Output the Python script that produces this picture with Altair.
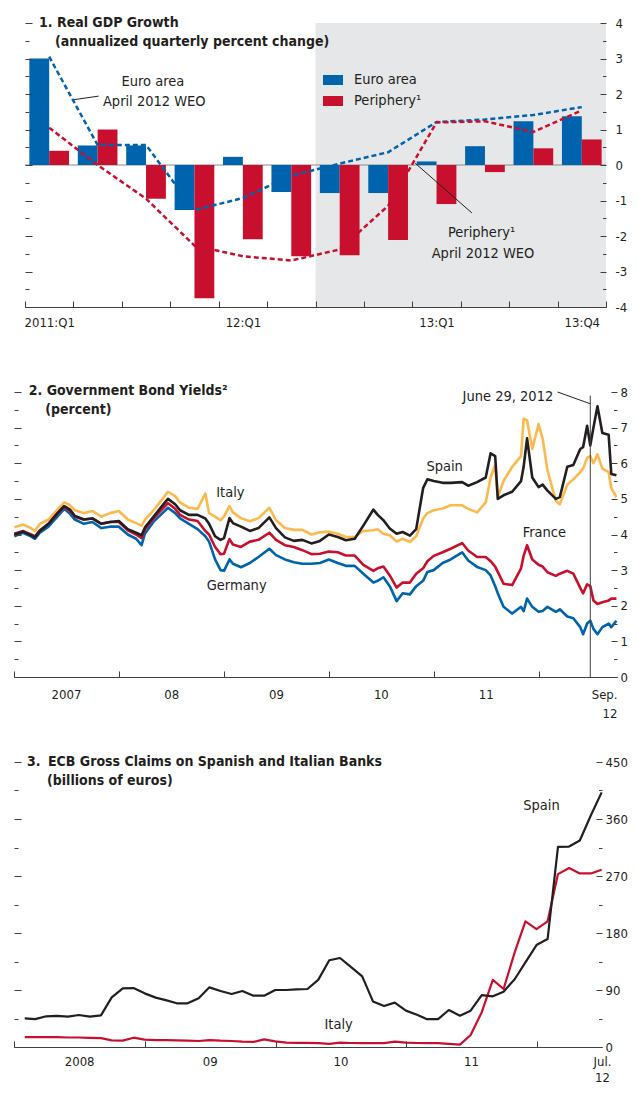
import altair as alt
import pandas as pd

FONT = "DejaVu Sans Condensed, Liberation Sans Narrow, sans-serif"
TXT = "#231f20"
AX = "#404040"
BLUE = "#0063ae"
RED = "#c8102e"
GOLD = "#fdb94e"
BLACK = "#231f20"
SHADE = "#e6e7e8"
ZERO = "#8a8a8a"
FS_TITLE = 14
FS_TEXT = 14.5
FS_YLAB = 13
FS_XLAB = 13

# ---------------- Panel 1 data: Real GDP growth ----------------
quarters = ["2011:Q1", "11:Q2", "11:Q3", "11:Q4", "12:Q1", "12:Q2",
            "12:Q3", "12:Q4", "13:Q1", "13:Q2", "13:Q3", "13:Q4"]
quarter_labels = ["2011:Q1", "12:Q1", "13:Q1", "13:Q4"]
forecast_start = "12:Q3"
series_names = ["Euro area", "Periphery\u00b9"]
euro_area = [3.0, 0.55, 0.55, -1.27, 0.23, -0.76, -0.79, -0.79, 0.10, 0.53, 1.23, 1.37]
periphery = [0.40, 1.00, -0.95, -3.75, -2.09, -2.57, -2.54, -2.11, -1.10, -0.20, 0.47, 0.72]
euro_area_weo = [3.05, 0.56, 0.56, -1.27, -0.93, -0.30, 0.04, 0.36, 1.21, 1.28, 1.41, 1.63]
periphery_weo = [1.05, 0.0, -0.95, -2.27, -2.57, -2.69, -2.38, -1.15, 1.20, 1.23, 0.93, 1.54]
ann1_text = ["Euro area", "April 2012 WEO", "Periphery\u00b9", "April 2012 WEO"]
ann1_q = [2.14, 2.17, 8.93, 8.96]
ann1_v = [2.33, 1.77, -1.91, -2.51]
lead1_id = ["ea", "ea", "pe", "pe"]
lead1_q = [0.51, 1.02, 7.56, 8.73]
lead1_v = [1.84, 1.94, 0.05, -1.35]

# ---------------- Panel 2 data: Government bond yields ----------------
dates2 = [
    "2007-01-02", "2007-02-01", "2007-03-01", "2007-03-15", "2007-04-01", "2007-05-01",
    "2007-06-01", "2007-06-25", "2007-07-15", "2007-08-01", "2007-09-01", "2007-10-01",
    "2007-11-01", "2007-12-01", "2008-01-01", "2008-02-01", "2008-03-01", "2008-03-20",
    "2008-04-01", "2008-05-01", "2008-06-01", "2008-06-20", "2008-07-15", "2008-08-01",
    "2008-09-01", "2008-10-01", "2008-10-28", "2008-11-10", "2008-12-01", "2008-12-20",
    "2009-01-01", "2009-01-20", "2009-02-01", "2009-03-01", "2009-04-01", "2009-05-01",
    "2009-06-08", "2009-07-01", "2009-08-01", "2009-09-01", "2009-10-01", "2009-11-01",
    "2009-12-01", "2010-01-01", "2010-02-01", "2010-03-01", "2010-04-01", "2010-05-01",
    "2010-06-05", "2010-06-20", "2010-07-10", "2010-08-01", "2010-08-25", "2010-09-15",
    "2010-10-10", "2010-11-01", "2010-11-25", "2010-12-10", "2011-01-01", "2011-02-01",
    "2011-03-01", "2011-04-10", "2011-05-01", "2011-06-01", "2011-07-01", "2011-07-18",
    "2011-08-03", "2011-08-12", "2011-09-01", "2011-10-01", "2011-11-01", "2011-11-10",
    "2011-11-22", "2011-12-10", "2012-01-01", "2012-01-15", "2012-02-01", "2012-03-01",
    "2012-03-15", "2012-04-10", "2012-05-01", "2012-05-25", "2012-06-04", "2012-06-18",
    "2012-06-29", "2012-07-10", "2012-07-24", "2012-08-10", "2012-09-01", "2012-09-10",
    "2012-09-28"]
germany = [
    3.95, 4.05, 3.95, 3.88, 4.05, 4.22, 4.50, 4.72, 4.58, 4.42, 4.30, 4.35,
    4.18, 4.22, 4.22, 4.00, 3.88, 3.70, 4.03, 4.36, 4.60, 4.75, 4.60, 4.45,
    4.30, 4.15, 3.95, 3.80, 3.30, 3.00, 2.98, 3.30, 3.18, 3.08, 3.20, 3.37,
    3.60, 3.42, 3.30, 3.22, 3.18, 3.18, 3.20, 3.30, 3.20, 3.12, 3.12, 2.90,
    2.65, 2.70, 2.80, 2.55, 2.13, 2.35, 2.32, 2.55, 2.70, 2.95, 3.00, 3.20,
    3.30, 3.50, 3.27, 3.09, 3.00, 2.85, 2.55, 2.35, 1.97, 1.78, 1.97, 1.85,
    2.20, 1.97, 1.83, 1.85, 1.97, 1.83, 1.90, 1.70, 1.65, 1.40, 1.20, 1.50,
    1.58, 1.35, 1.20, 1.40, 1.50, 1.40, 1.58]
france = [
    4.02, 4.10, 4.00, 3.95, 4.12, 4.30, 4.58, 4.78, 4.66, 4.50, 4.42, 4.45,
    4.30, 4.35, 4.35, 4.12, 4.00, 3.90, 4.15, 4.45, 4.72, 4.88, 4.72, 4.55,
    4.42, 4.38, 4.10, 4.00, 3.65, 3.45, 3.46, 3.87, 3.72, 3.65, 3.80, 3.85,
    4.05, 3.85, 3.70, 3.65, 3.56, 3.45, 3.46, 3.52, 3.50, 3.41, 3.41, 3.15,
    2.98, 3.05, 3.10, 2.85, 2.51, 2.65, 2.65, 2.90, 3.05, 3.25, 3.40, 3.50,
    3.60, 3.76, 3.55, 3.37, 3.37, 3.25, 3.10, 2.95, 2.62, 2.58, 3.05, 3.40,
    3.70, 3.30, 3.15, 3.10, 2.94, 2.84, 2.90, 2.98, 2.90, 2.50, 2.35, 2.60,
    2.55, 2.15, 2.05, 2.10, 2.15, 2.20, 2.20]
italy = [
    4.20, 4.28, 4.18, 4.10, 4.30, 4.42, 4.70, 4.90, 4.82, 4.68, 4.60, 4.66,
    4.50, 4.60, 4.66, 4.42, 4.32, 4.25, 4.42, 4.68, 5.00, 5.20, 5.08, 4.90,
    4.75, 4.72, 5.15, 4.60, 4.50, 4.40, 4.50, 4.80, 4.62, 4.46, 4.37, 4.46,
    4.75, 4.40, 4.18, 4.13, 4.13, 4.00, 4.06, 4.08, 4.02, 3.93, 3.93, 4.10,
    4.12, 4.15, 4.02, 3.98, 3.80, 3.88, 3.79, 3.95, 4.45, 4.60, 4.68, 4.73,
    4.82, 4.82, 4.72, 4.62, 4.90, 5.60, 5.95, 5.05, 5.50, 5.90, 6.20, 7.25,
    7.20, 6.40, 7.10, 6.70, 5.80, 4.95, 4.85, 5.40, 5.55, 5.75, 5.85, 6.15,
    6.20, 6.00, 6.25, 5.85, 5.75, 5.30, 5.05]
spain = [
    4.00, 4.08, 3.98, 3.92, 4.10, 4.30, 4.60, 4.80, 4.70, 4.52, 4.42, 4.45,
    4.30, 4.35, 4.38, 4.15, 4.05, 3.98, 4.20, 4.50, 4.82, 5.00, 4.85, 4.68,
    4.55, 4.55, 4.45, 4.30, 3.95, 3.85, 3.90, 4.46, 4.32, 4.22, 4.10, 4.18,
    4.48, 4.18, 3.92, 3.82, 3.85, 3.75, 3.82, 4.00, 3.93, 3.84, 3.88, 4.25,
    4.70, 4.55, 4.40, 4.17, 4.02, 4.07, 3.97, 4.15, 5.30, 5.55, 5.50, 5.45,
    5.45, 5.47, 5.37, 5.47, 5.60, 6.28, 6.20, 5.00, 5.10, 5.20, 5.50, 5.90,
    6.70, 5.60, 5.33, 5.40, 5.23, 5.00, 5.05, 5.90, 5.95, 6.40, 6.45, 7.05,
    6.50, 7.00, 7.60, 6.85, 6.80, 5.70, 5.66]
event_date = "2012-06-29"
event_label = "June 29, 2012"
lab2_text = ["Italy", "Germany", "Spain", "France"]
lab2_date = ["2009-01-23", "2009-02-14", "2011-02-08", "2012-01-21"]
lab2_v = [5.17, 2.55, 5.90, 4.04]

# ---------------- Panel 3 data: ECB gross claims ----------------
months3 = pd.date_range("2008-01-31", periods=54, freq="ME").strftime("%Y-%m-%d").tolist()
spain3 = [45.3, 44, 48.5, 49, 48, 50.5, 48, 50, 78.4, 92.6, 93, 84.7, 78, 74, 69, 69,
          77, 94.2, 88.4, 83.7, 88.4, 81, 81, 90, 90, 91, 91.6, 106, 137, 140.5, 126,
          111.6, 72, 64.7, 70, 57.4, 51, 44, 44, 58.4, 49.5, 57.4, 82, 80, 87.4, 107,
          133.7, 161, 170.5, 316, 316.5, 326, 366, 402]
italy3 = [15.5, 15.5, 15.5, 15.5, 15, 15, 14.5, 14, 10.5, 10, 14.7, 11.6, 11, 11, 10.5,
          10, 9.5, 11, 10, 9.5, 8.4, 8, 12, 9, 7, 6.5, 6.5, 6, 5, 7, 6.3, 6, 6, 6, 8.4,
          7, 6.3, 6, 6, 5, 3.7, 19, 55, 106, 91.6, 149.5, 198.5, 186, 198.5, 273, 282.6,
          274, 274, 280]
lab3_text = ["Spain", "Italy"]
lab3_date = ["2012-01-14", "2010-06-26"]
lab3_v = [381, 35]

DUMMY = pd.DataFrame({"a": [0]})


def dt(y, m, d):
    return alt.DateTime(year=y, month=m, date=d, utc=True)


def cond_size(test, long, short):
    return {"condition": {"test": test, "value": long}, "value": short}


def ticks_from_left(values, offset, test, long, short):
    # inward ticks at the left edge of the plot
    return alt.Axis(orient="right", offset=offset, values=values, labels=False, domain=False,
                    ticks=True, tickColor=AX, tickWidth=1, tickSize=cond_size(test, long, short),
                    grid=False, title=None, zindex=1)


def ticks_from_right(values, offset, test, long, short):
    # inward ticks at the right edge of the plot
    return alt.Axis(orient="left", offset=offset, values=values, labels=False, domain=False,
                    ticks=True, tickColor=AX, tickWidth=1, tickSize=cond_size(test, long, short),
                    grid=False, title=None, zindex=1)


def y_labels(values, pad):
    return alt.Axis(orient="right", values=values, ticks=False, tickSize=0, domain=False,
                    labelPadding=pad, labelAlign="left", labelBaseline="middle",
                    labelExpr="'' + datum.value", labelFont=FONT, labelFontSize=FS_YLAB,
                    labelColor=TXT, labelOverlap=False, labelFlush=False, grid=False, title=None)


def x_ticks(values, height):
    return alt.Axis(orient="top", offset=-height, values=values, labels=False, ticks=True,
                    tickSize=6, tickColor=AX, domain=True, domainColor=AX, domainWidth=1.2,
                    grid=False, title=None, zindex=1)


def x_labels(values, expr, pad, align, line_height=19):
    return alt.Axis(orient="bottom", values=values, labelExpr=expr, ticks=False, tickSize=0,
                    domain=False, labelPadding=pad, labelFont=FONT, labelFontSize=FS_XLAB,
                    labelColor=TXT, labelLineHeight=line_height, labelAlign=align,
                    labelOverlap=False, labelFlush=False, labelBound=False,
                    grid=False, title=None)


def title_text(text, px, py):
    return alt.Chart(DUMMY).mark_text(
        align="left", baseline="alphabetic", font=FONT, fontSize=FS_TITLE,
        fontWeight="bold", color=TXT
    ).encode(x=alt.value(px), y=alt.value(py), text=alt.value(text))


# ======================= Panel 1 =======================
n = len(quarters)
qi = list(range(n))
W1, H1, L1 = 592, 284, 11
xs1 = alt.Scale(domain=[-0.5, n - 0.5], range=[L1, W1], nice=False, zero=False)
ys1 = alt.Scale(domain=[-4, 4], nice=False, zero=False)
yt1 = [i / 2 for i in range(-8, 9)]
yl1 = list(range(-4, 5))
xt1 = [i - 0.5 for i in range(n + 1)]
xl1 = [quarters.index(l) for l in quarter_labels]
col1 = alt.Scale(domain=series_names, range=[BLUE, RED])
BW = 0.41

bars_df = pd.DataFrame({"q": qi + qi,
                        "series": [series_names[0]] * n + [series_names[1]] * n,
                        "value": euro_area + periphery})
weo_df = pd.DataFrame({"q": qi + qi,
                       "series": [series_names[0]] * n + [series_names[1]] * n,
                       "value": euro_area_weo + periphery_weo})
shade_df = pd.DataFrame({"start": [quarters.index(forecast_start) - 0.5], "end": [n - 0.5]})
ann1_df = pd.DataFrame({"text": ann1_text, "q": ann1_q, "v": ann1_v})
lead1_df = pd.DataFrame({"id": lead1_id, "q": lead1_q, "v": lead1_v})

label_expr1 = "".join(
    f"datum.value == {quarters.index(l)} ? '{l}' : " for l in quarter_labels) + "''"

shade = alt.Chart(shade_df).mark_rect(color=SHADE).encode(
    x=alt.X("start:Q", scale=xs1, axis=None), x2="end:Q",
    y=alt.value(0), y2=alt.value(H1))

zero_line = alt.Chart(pd.DataFrame({"v": [0]})).mark_rule(color=ZERO, strokeWidth=1).encode(
    x=alt.value(L1), x2=alt.value(W1),
    y=alt.Y("v:Q", scale=ys1, axis=y_labels(yl1, 9)))

bars = alt.Chart(bars_df).transform_calculate(
    x0=f"datum.q - (datum.series == '{series_names[0]}' ? {BW} : 0)",
    x1=f"datum.q + (datum.series == '{series_names[0]}' ? 0 : {BW})",
    base="0",
).mark_rect().encode(
    x=alt.X("x0:Q", scale=xs1, axis=x_ticks(xt1, H1)), x2="x1:Q",
    y=alt.Y("value:Q", scale=ys1, axis=ticks_from_left(yt1, -(W1 - L1), "datum.value % 1 === 0", 7, 4)),
    y2="base:Q",
    color=alt.Color("series:N", scale=col1, legend=alt.Legend(
        orient="none", legendX=309, legendY=47, title=None,
        symbolType="M-1,-0.5H1V0.5H-1Z", symbolSize=400, symbolStrokeWidth=0,
        symbolOpacity=1, labelFont=FONT, labelFontSize=FS_TEXT, labelColor=TXT,
        labelOffset=11, rowPadding=4, padding=0)))

weo = alt.Chart(weo_df).mark_line(strokeDash=[5, 3], strokeWidth=2.5).encode(
    x=alt.X("q:Q", scale=xs1, axis=x_labels(xl1, label_expr1, 9, "center")),
    y=alt.Y("value:Q", scale=ys1, axis=ticks_from_right(yt1, -W1, "datum.value % 1 === 0", 6, 3.5)),
    color=alt.Color("series:N", scale=col1, legend=None))

leaders1 = alt.Chart(lead1_df).mark_line(color=TXT, strokeWidth=1).encode(
    x=alt.X("q:Q", scale=xs1, axis=None), y=alt.Y("v:Q", scale=ys1, axis=None),
    detail="id:N")

ann1 = alt.Chart(ann1_df).mark_text(font=FONT, fontSize=FS_TEXT, color=TXT,
                                    align="center", baseline="middle").encode(
    x=alt.X("q:Q", scale=xs1, axis=None), y=alt.Y("v:Q", scale=ys1, axis=None),
    text="text:N")

p1 = alt.layer(
    shade, zero_line, bars, weo, leaders1, ann1,
    title_text("1. Real GDP Growth", 25, 4),
    title_text("(annualized quarterly percent change)", 41, 23.4),
).properties(width=W1, height=H1).resolve_axis(x="independent", y="independent")

# ======================= Panel 2 =======================
W2, H2 = 603, 285
xs2 = alt.Scale(type="utc", domain=[dt(2007, 1, 1), dt(2012, 9, 30)], nice=False)
ys2 = alt.Scale(domain=[0, 8], nice=False, zero=False)
yt2 = [i / 2 for i in range(0, 17)]
yl2 = list(range(0, 9))
years2 = [2007, 2008, 2009, 2010, 2011]
year_labels2 = ["2007", "08", "09", "10", "11"]
end_label2 = ["Sep.", "12"]
xt2 = [dt(y, 1, 1) for y in range(2007, 2013)]
xl2 = [dt(y, 7, 1) for y in years2] + [dt(2012, 9, 30)]
expr2 = "".join(f"utcyear(datum.value) == {y} ? '{l}' : " for y, l in zip(years2, year_labels2)) \
    + "[" + ", ".join(f"'{s}'" for s in end_label2) + "]"
align2 = {"condition": {"test": "utcyear(datum.value) == 2012", "value": "right"}, "value": "center"}


def line2(vals, color, xaxis, yaxis):
    return alt.Chart(pd.DataFrame({"date": dates2, "value": vals})).mark_line(
        color=color, strokeWidth=2.6, strokeJoin="round").encode(
        x=alt.X("date:T", scale=xs2, axis=xaxis),
        y=alt.Y("value:Q", scale=ys2, axis=yaxis))


l_it = line2(italy, GOLD, x_ticks(xt2, H2),
             ticks_from_left(yt2, -W2, "datum.value % 1 === 0", 7, 4))
l_de = line2(germany, BLUE, x_labels(xl2, expr2, 11, align2, 19),
             ticks_from_right(yt2, -W2, "datum.value % 1 === 0", 6, 3.5))
l_fr = line2(france, RED, None, y_labels(yl2, 3))
l_es = line2(spain, BLACK, None, None)

event_rule = alt.Chart(pd.DataFrame({"date": [event_date], "top": [7.9], "bot": [0]})).mark_rule(
    color=AX, strokeWidth=1).encode(
    x=alt.X("date:T", scale=xs2, axis=None),
    y=alt.Y("top:Q", scale=ys2, axis=None), y2="bot:Q")
event_leader = alt.Chart(pd.DataFrame({"date": ["2012-03-07", event_date], "v": [8.0, 7.67]})).mark_line(
    color=TXT, strokeWidth=1).encode(
    x=alt.X("date:T", scale=xs2, axis=None), y=alt.Y("v:Q", scale=ys2, axis=None))
event_text = alt.Chart(pd.DataFrame({"date": ["2012-02-21"], "v": [7.87], "t": [event_label]})).mark_text(
    font=FONT, fontSize=FS_TEXT, color=TXT, align="right", baseline="middle").encode(
    x=alt.X("date:T", scale=xs2, axis=None), y=alt.Y("v:Q", scale=ys2, axis=None), text="t:N")
lab2 = alt.Chart(pd.DataFrame({"date": lab2_date, "v": lab2_v, "t": lab2_text})).mark_text(
    font=FONT, fontSize=FS_TEXT, color=TXT, align="center", baseline="middle").encode(
    x=alt.X("date:T", scale=xs2, axis=None), y=alt.Y("v:Q", scale=ys2, axis=None), text="t:N")

p2 = alt.layer(
    l_it, l_de, l_fr, l_es, event_rule, event_leader, event_text, lab2,
    title_text("2. Government Bond Yields\u00b2", 14.7, 2.7),
    title_text("(percent)", 31.3, 22),
).properties(width=W2, height=H2).resolve_axis(x="independent", y="independent")

# ======================= Panel 3 =======================
W3, H3 = 588, 285
xs3 = alt.Scale(type="utc", domain=[dt(2008, 1, 1), dt(2012, 7, 1)], nice=False)
ys3 = alt.Scale(domain=[0, 450], nice=False, zero=False)
yt3 = list(range(0, 451, 45))
yl3 = list(range(0, 451, 90))
years3 = [2008, 2009, 2010, 2011]
year_labels3 = ["2008", "09", "10", "11"]
end_label3 = ["Jul.", "12"]
xt3 = [dt(y, 1, 1) for y in range(2008, 2013)]
xl3 = [dt(y, 7, 1) for y in years3] + [dt(2012, 7, 1)]
expr3 = "".join(f"utcyear(datum.value) == {y} ? '{l}' : " for y, l in zip(years3, year_labels3)) \
    + "[" + ", ".join(f"'{s}'" for s in end_label3) + "]"


def line3(vals, color, xaxis, yaxis):
    return alt.Chart(pd.DataFrame({"date": months3, "value": vals})).mark_line(
        color=color, strokeWidth=2.2, strokeJoin="round").encode(
        x=alt.X("date:T", scale=xs3, axis=xaxis),
        y=alt.Y("value:Q", scale=ys3, axis=yaxis))


l3_it = line3(italy3, RED, x_ticks(xt3, H3),
              ticks_from_left(yt3, -W3, "datum.value % 90 === 0", 7, 4))
l3_es = line3(spain3, BLACK, x_labels(xl3, expr3, 8, "center", 16),
              ticks_from_right(yt3, -W3, "datum.value % 90 === 0", 6, 3.5))
r3 = alt.Chart(pd.DataFrame({"v": [0]})).mark_rule(opacity=0).encode(
    x=alt.value(0), x2=alt.value(1),
    y=alt.Y("v:Q", scale=ys3, axis=y_labels(yl3, 3)))
lab3 = alt.Chart(pd.DataFrame({"date": lab3_date, "v": lab3_v, "t": lab3_text})).mark_text(
    font=FONT, fontSize=FS_TEXT, color=TXT, align="center", baseline="middle").encode(
    x=alt.X("date:T", scale=xs3, axis=None), y=alt.Y("v:Q", scale=ys3, axis=None), text="t:N")

p3 = alt.layer(
    l3_it, l3_es, r3, lab3,
    title_text("3.", 13, 4.3),
    title_text("ECB Gross Claims on Spanish and Italian Banks", 34, 4.3),
    title_text("(billions of euros)", 33, 23),
).properties(width=W3, height=H3).resolve_axis(x="independent", y="independent")

chart = alt.vconcat(p1, p2, p3, spacing=85, bounds="flush").properties(
    padding={"left": 4, "top": 8, "right": 0, "bottom": 0}
).configure_view(stroke=None).configure_axis(grid=False)

chart.save("out.html", embed_options={"renderer": "svg", "actions": False})
